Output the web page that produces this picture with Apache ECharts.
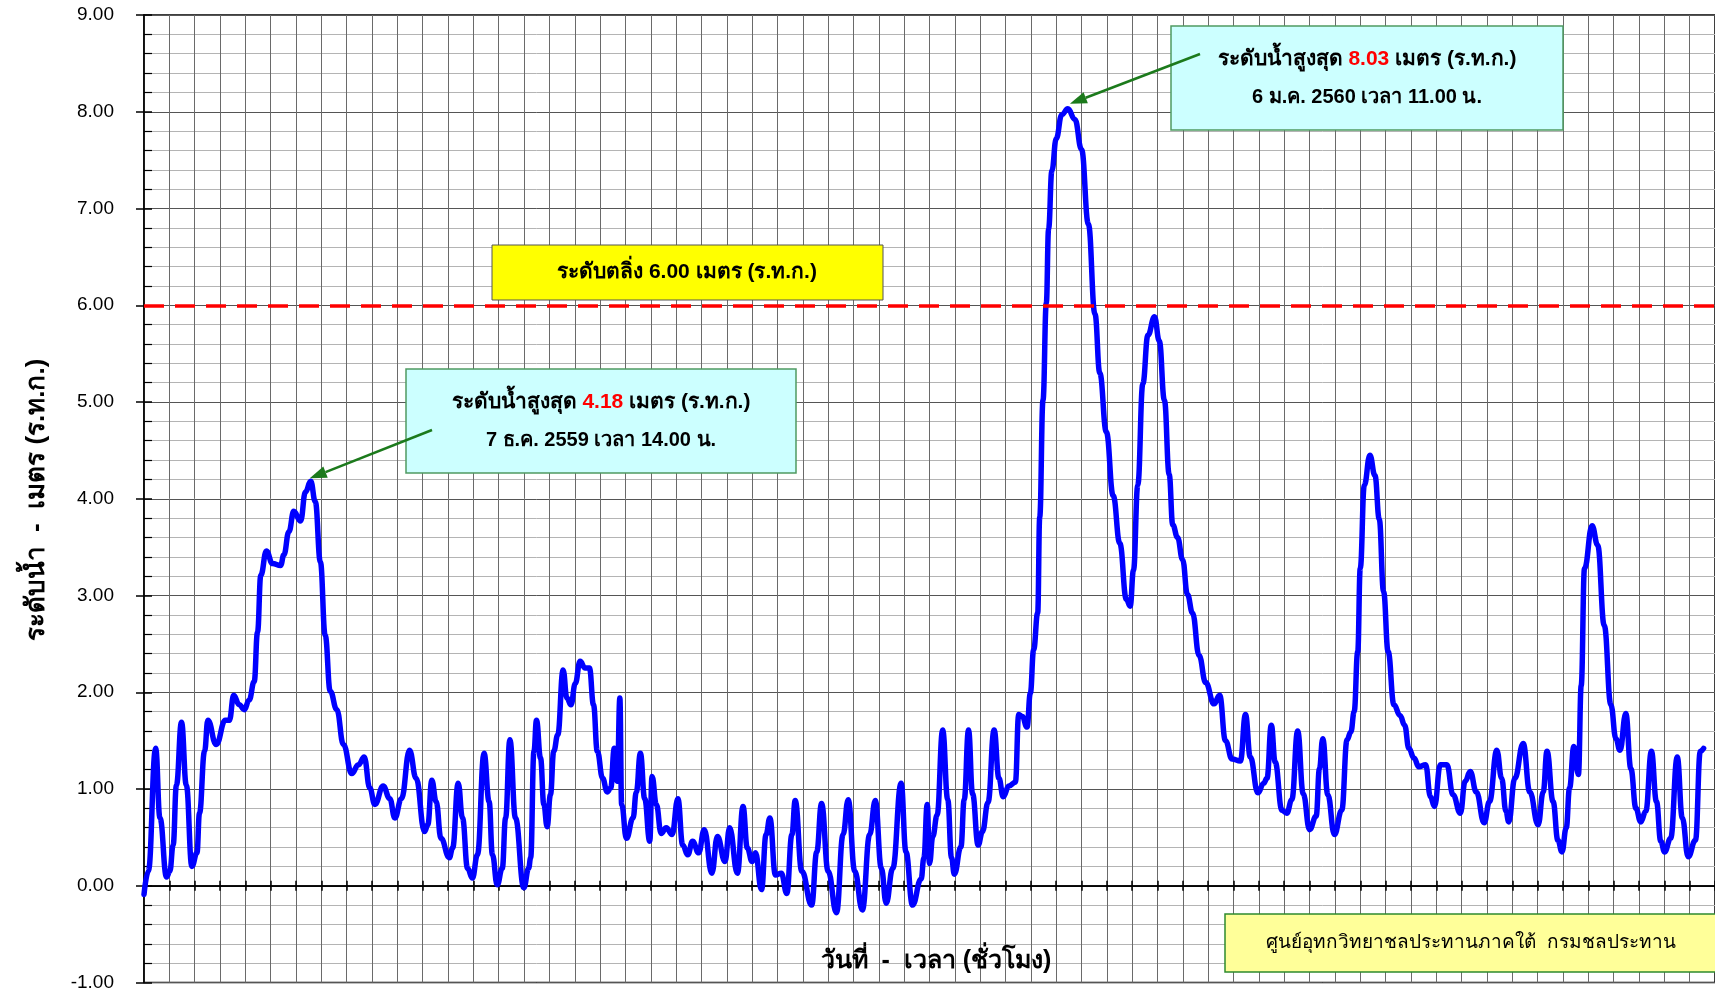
<!DOCTYPE html>
<html>
<head>
<meta charset="utf-8">
<script src="https://cdn.jsdelivr.net/npm/echarts@6/dist/echarts.min.js"></script>
<style>
html,body{margin:0;padding:0;background:#fff;}
#chart{width:1715px;height:992px;}
</style>
</head>
<body>
<div id="chart"></div>
<script>
// ---- data (x = days since 1 Dec 2559 00:00, y = water level, m MSL) ----
const days = [
0.00,0.17,0.46,0.63,0.89,1.02,1.15,1.28,1.48,1.67,1.89,2.09,2.19,2.39,2.52,2.85,3.21,3.37,3.54,3.76,
3.96,4.15,4.35,4.48,4.61,4.83,5.07,5.39,5.52,5.72,5.91,6.18,6.37,6.58,6.76,6.96,7.15,7.35,7.61,7.87,
8.20,8.46,8.69,8.91,9.11,9.44,9.70,9.90,10.16,10.48,10.74,11.07,11.20,11.36,11.53,11.72,12.05,12.18,12.40,12.57,
12.77,12.96,13.16,13.42,13.62,13.75,13.94,14.14,14.27,14.44,14.66,14.99,15.18,15.26,15.39,15.49,15.65,15.78,15.91,16.04,
16.17,16.33,16.54,16.69,16.85,17.02,17.21,17.41,17.58,17.74,17.89,18.10,18.28,18.42,18.56,18.68,18.78,18.85,19.04,19.30,
19.43,19.59,19.76,19.96,20.05,20.22,20.41,20.61,20.84,21.07,21.26,21.46,21.65,21.89,22.11,22.41,22.63,22.93,23.11,23.42,
23.64,23.81,24.00,24.13,24.37,24.55,24.70,24.92,25.15,25.37,25.57,25.70,25.96,26.35,26.55,26.74,27.00,27.33,27.59,27.79,
28.05,28.35,28.64,28.86,29.10,29.29,29.55,29.88,30.07,30.33,30.67,30.78,30.91,31.00,31.13,31.30,31.52,31.72,31.87,31.98,
32.24,32.37,32.54,32.70,32.92,33.09,33.31,33.55,33.74,33.91,34.13,34.39,34.52,34.66,34.85,34.98,35.11,35.27,35.35,35.48,
35.61,35.70,35.83,36.00,36.22,36.46,36.74,37.00,37.27,37.53,37.72,37.98,38.25,38.51,38.77,38.92,39.05,39.22,39.42,39.62,
39.88,40.07,40.27,40.46,40.60,40.79,40.99,41.18,41.38,41.64,41.90,42.23,42.45,42.68,42.94,43.27,43.47,43.66,43.96,44.19,
44.32,44.49,44.64,44.91,45.10,45.30,45.53,45.75,46.00,46.26,46.39,46.52,46.72,46.98,47.27,47.48,47.63,47.76,47.90,48.00,
48.16,48.38,48.58,48.75,48.92,49.10,49.33,49.57,49.75,49.92,50.12,50.31,50.58,50.77,50.93,51.16,51.42,51.66,51.95,52.14,
52.34,52.58,52.89,53.10,53.39,53.58,53.75,53.86,54.10,54.43,54.69,55.02,55.22,55.37,55.61,55.80,55.96,56.13,56.26,56.43,
56.61,56.72,56.85,57.15,57.37,57.63,57.89,58.09,58.25,58.48,58.68,58.88,59.07,59.27,59.49,59.69,59.86,60.01,60.25,60.51,
60.71,60.94,61.23,61.42,61.55
];
const levels = [
-0.09,0.15,1.42,0.70,0.09,0.15,0.42,1.04,1.69,1.04,0.20,0.34,0.75,1.39,1.71,1.46,1.71,1.71,1.97,1.87,
1.82,1.92,2.11,2.62,3.21,3.46,3.33,3.31,3.42,3.66,3.87,3.77,4.07,4.18,3.97,3.35,2.59,2.01,1.82,1.46,
1.16,1.25,1.33,1.01,0.84,1.03,0.90,0.70,0.90,1.40,1.11,0.56,0.63,1.09,0.87,0.49,0.29,0.39,1.06,0.70,
0.18,0.08,0.32,1.37,0.87,0.32,0.01,0.18,0.70,1.51,0.70,-0.02,0.18,0.29,1.39,1.71,1.32,0.84,0.61,0.94,
1.39,1.56,2.23,1.94,1.87,2.09,2.32,2.25,2.25,1.87,1.39,1.11,0.97,1.01,1.42,1.08,1.94,0.84,0.49,0.70,
0.97,1.37,0.90,0.46,1.13,0.84,0.54,0.60,0.53,0.90,0.42,0.32,0.46,0.34,0.58,0.13,0.51,0.25,0.60,0.13,
0.82,0.39,0.25,0.34,-0.04,0.53,0.70,0.11,0.13,-0.08,0.53,0.88,0.15,-0.20,0.35,0.85,0.15,-0.28,0.53,0.89,
0.15,-0.25,0.53,0.88,0.18,-0.18,0.18,1.06,0.35,-0.20,0.07,0.29,0.84,0.23,0.51,0.73,1.61,0.89,0.29,0.12,
0.40,0.89,1.61,0.95,0.42,0.56,0.86,1.61,1.11,0.92,1.03,1.07,1.77,1.75,1.64,1.99,2.44,2.82,3.81,5.02,
6.02,6.79,7.39,7.72,7.97,8.03,7.92,7.61,6.84,5.91,5.30,4.69,4.03,3.54,2.96,2.89,3.26,4.14,5.19,5.69,
5.88,5.63,5.02,4.25,3.73,3.60,3.37,3.01,2.82,2.38,2.10,1.88,1.97,1.50,1.31,1.29,1.77,1.33,0.96,1.06,
1.11,1.66,1.28,0.78,0.75,0.89,1.60,0.95,0.58,0.72,1.21,1.52,0.94,0.53,0.78,1.51,1.59,1.80,2.42,3.28,
4.14,4.45,4.24,3.79,3.04,2.42,1.87,1.76,1.66,1.42,1.32,1.23,1.25,0.92,0.82,1.25,1.25,0.94,0.75,1.08,
1.18,0.97,0.65,0.87,1.40,1.11,0.77,0.66,1.11,1.47,0.97,0.63,0.97,1.39,0.87,0.47,0.35,0.60,1.01,1.44,
1.15,2.07,3.28,3.72,3.52,2.69,1.87,1.52,1.40,1.78,1.21,0.80,0.66,0.77,1.39,0.87,0.46,0.35,0.49,1.33,
0.70,0.30,0.47,1.39,1.42
];
const bankLevel = 6.00;
const peakDays = [6.58, 36.46];
const peakLevels = [4.18, 8.03];
const peakDates = ['7 ธ.ค. 2559 เวลา 14.00 น.', '6 ม.ค. 2560 เวลา 11.00 น.'];
const yTickValues = [-1, 0, 1, 2, 3, 4, 5, 6, 7, 8, 9];

const FONT = "'Liberation Sans', 'DejaVu Sans', 'Noto Sans', sans-serif";
const chart = echarts.init(document.getElementById('chart'), null, {renderer: 'canvas'});
const seriesData = days.map((d, i) => [d, levels[i]]);

const xCommon = {
  type: 'value', min: 0, max: 62, interval: 1,
  axisLabel: {show: false},
  axisLine: {onZero: true, onZeroAxisIndex: 0, lineStyle: {color: '#000', width: 1.5}},
  axisTick: {show: true, length: 5, lineStyle: {color: '#000', width: 1.5}}
};
const yCommon = {
  type: 'value', min: yTickValues[0], max: yTickValues[yTickValues.length - 1], interval: 1,
  position: 'left', offset: 0
};

chart.setOption({
  animation: false,
  backgroundColor: '#fff',
  grid: {left: 144, top: 15, right: -12, bottom: 7, show: true, borderColor: '#000', borderWidth: 1.5, backgroundColor: 'transparent'},
  xAxis: [
    Object.assign({}, xCommon, {position: 'bottom', splitLine: {show: true, lineStyle: {color: '#6a6a6a', width: 1}}}),
    Object.assign({}, xCommon, {position: 'top', splitLine: {show: false}})
  ],
  yAxis: [
    Object.assign({}, yCommon, {
      axisLine: {show: true, onZero: false, lineStyle: {color: '#000', width: 1.5}},
      axisTick: {show: true, inside: false, length: 8, lineStyle: {color: '#000', width: 1.5}},
      axisLabel: {show: true, margin: 30, color: '#000', fontSize: 19, fontFamily: FONT, formatter: v => v.toFixed(2)},
      splitLine: {show: true, lineStyle: {color: '#555', width: 1}},
      minorTick: {show: false, splitNumber: 5},
      minorSplitLine: {show: true, lineStyle: {color: '#b4b4b4', width: 1}}
    }),
    Object.assign({}, yCommon, {
      axisLine: {show: false, onZero: false},
      axisTick: {show: true, inside: true, length: 8, lineStyle: {color: '#000', width: 1.5}},
      minorTick: {show: true, splitNumber: 5, length: 8, lineStyle: {color: '#000', width: 1.2}},
      axisLabel: {show: false},
      splitLine: {show: false}
    })
  ],
  series: [{
    type: 'line',
    xAxisIndex: 0, yAxisIndex: 0,
    data: seriesData,
    symbol: 'none',
    smooth: 0.45,
    smoothMonotone: 'x',
    lineStyle: {color: '#0000ff', width: 5.5, join: 'round', cap: 'round'},
    z: 3,
    markLine: {
      silent: true, symbol: 'none', label: {show: false}, z: 4,
      lineStyle: {color: '#ff0000', width: 3.5, type: [20, 11]},
      data: [{yAxis: bankLevel}]
    }
  }]
});

function arrow(x1, y1, x2, y2, color) {
  const ang = Math.atan2(y2 - y1, x2 - x1);
  const L = 17, W = 6;
  const bx = x2 - L * Math.cos(ang), by = y2 - L * Math.sin(ang);
  const px = -Math.sin(ang) * W, py = Math.cos(ang) * W;
  return [
    {type: 'line', shape: {x1: x1, y1: y1, x2: bx, y2: by}, style: {stroke: color, lineWidth: 2.5}, z: 20},
    {type: 'polygon', shape: {points: [[x2, y2], [bx + px, by + py], [bx - px, by - py]]}, style: {fill: color}, z: 20}
  ];
}

const tip1 = chart.convertToPixel({seriesIndex: 0}, [peakDays[0], peakLevels[0]]);
const tip2 = chart.convertToPixel({seriesIndex: 0}, [peakDays[1], peakLevels[1]]);
const TH = "'Liberation Sans', 'DejaVu Sans', 'Noto Sans', sans-serif";

function peakBox(x, y, w, h, peakVal, dateText) {
  const cx = x + w / 2;
  return [
    {type: 'rect', shape: {x: x, y: y, width: w, height: h}, style: {fill: '#ccffff', stroke: '#4f9a62', lineWidth: 1.5}, z: 15},
    {type: 'text', x: cx, y: y + 33, z: 16, style: {
      text: 'ระดับน้ำสูงสุด {r|' + peakVal.toFixed(2) + '} เมตร (ร.ท.ก.)',
      font: 'bold 21px ' + TH, fill: '#000', textAlign: 'center', textVerticalAlign: 'middle',
      rich: {r: {fill: '#ff0000', fontWeight: 'bold', fontSize: 21, fontFamily: TH}}
    }},
    {type: 'text', x: cx, y: y + 71, z: 16, style: {
      text: dateText, font: 'bold 20px ' + TH, fill: '#000', textAlign: 'center', textVerticalAlign: 'middle'
    }}
  ];
}

const graphics = [].concat(
  [{type: 'rect', shape: {x: 492, y: 245, width: 391, height: 55}, style: {fill: '#ffff00', stroke: '#555', lineWidth: 1}, z: 15},
   {type: 'text', x: 687, y: 272, z: 16, style: {text: 'ระดับตลิ่ง ' + bankLevel.toFixed(2) + ' เมตร (ร.ท.ก.)', font: 'bold 21px ' + TH, fill: '#000', textAlign: 'center', textVerticalAlign: 'middle'}}],
  peakBox(406, 369, 390, 104, peakLevels[0], peakDates[0]),
  peakBox(1171, 26, 392, 104, peakLevels[1], peakDates[1]),
  arrow(432, 430, tip1[0] - 1, tip1[1] - 3, '#1c7a1c'),
  arrow(1200, 54, tip2[0] + 2, tip2[1] - 5, '#1c7a1c'),
  [{type: 'rect', shape: {x: 1225, y: 914, width: 495, height: 58}, style: {fill: '#ffff99', stroke: '#2e8b2e', lineWidth: 1.5}, z: 15},
   {type: 'text', x: 1471, y: 943, z: 16, style: {text: 'ศูนย์อุทกวิทยาชลประทานภาคใต้  กรมชลประทาน', font: '19px ' + TH, fill: '#000', textAlign: 'center', textVerticalAlign: 'middle'}},
   {type: 'text', x: 936, y: 961, z: 16, style: {text: 'วันที่  -  เวลา (ชั่วโมง)', font: 'bold 25px ' + TH, fill: '#000', textAlign: 'center', textVerticalAlign: 'middle'}},
   {type: 'text', x: 37, y: 500, rotation: Math.PI / 2, z: 16, style: {text: 'ระดับน้ำ  -  เมตร (ร.ท.ก.)', font: 'bold 26px ' + TH, fill: '#000', textAlign: 'center', textVerticalAlign: 'middle'}}]
);
chart.setOption({graphic: graphics});
</script>
</body>
</html>
